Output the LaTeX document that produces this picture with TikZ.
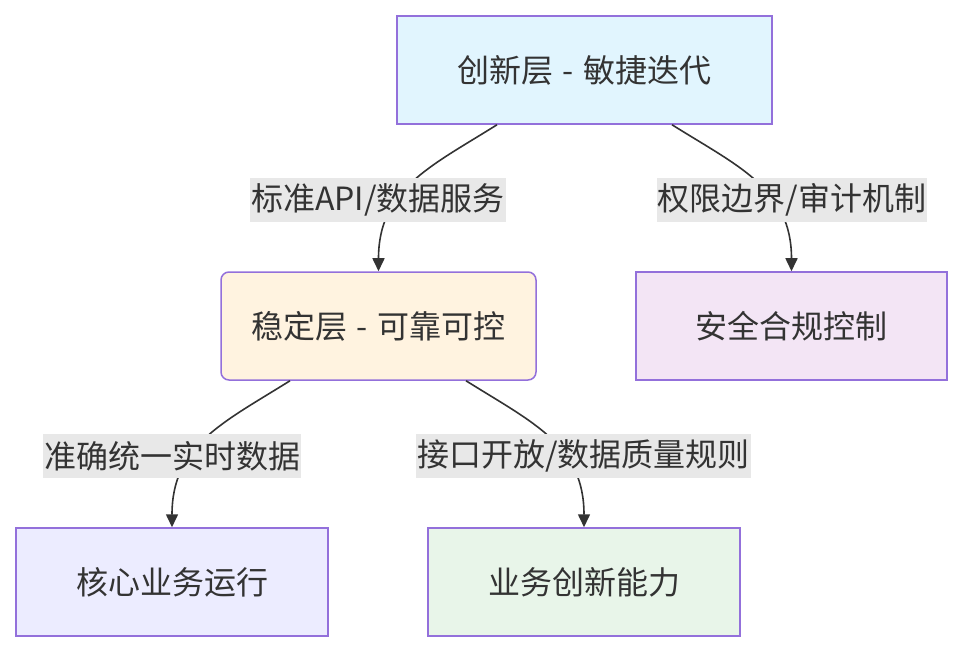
\documentclass[tikz,border=0pt]{standalone}
\usepackage{fontspec}
\setmainfont{Noto Sans CJK SC}
\usetikzlibrary{arrows.meta}
\definecolor{bordc}{HTML}{9370DB}
\definecolor{txtc}{HTML}{333333}
\definecolor{cblue}{HTML}{E1F5FE}
\definecolor{corange}{HTML}{FFF3E0}
\definecolor{cpurple}{HTML}{F3E5F5}
\definecolor{clav}{HTML}{ECECFF}
\definecolor{cgreen}{HTML}{E8F5E9}
\definecolor{lblbg}{HTML}{E8E8E8}
\newcommand{\dashsep}{\hspace{9pt}-\hspace{9pt}}
\tikzset{
  box/.style={draw=bordc, line width=1.5pt, text=txtc, font=\fontsize{32}{38}\selectfont,
    minimum height=108pt, inner sep=0pt},
  elabel/.style={fill=lblbg, text=txtc, font=\fontsize{32}{38}\selectfont,
    minimum height=44pt, inner xsep=1pt, inner ysep=0pt},
  conn/.style={draw=txtc, line width=1.6pt, -{Triangle[length=13pt,width=12pt]}}
}
\begin{document}
\begin{tikzpicture}[x=1pt,y=-1pt]
\useasboundingbox (0,0) rectangle (963,652);
\node[box, fill=cblue, minimum width=375pt] (top) at (584.5,70) {创新层\dashsep 敏捷迭代};
\node[box, fill=corange, minimum width=315pt, rounded corners=8pt] (stable) at (378.5,326) {稳定层\dashsep 可靠可控};
\node[box, fill=cpurple, minimum width=311pt] (safe) at (791.5,326) {安全合规控制};
\node[box, fill=clav, minimum width=312pt] (core) at (172,582) {核心业务运行};
\node[box, fill=cgreen, minimum width=312pt] (innov) at (584,582) {业务创新能力};

\draw[conn] ([xshift=-87.5pt]top.south) .. controls +(-67,42) and +(0,-82) .. (stable.north);
\draw[conn] ([xshift=87.5pt]top.south) .. controls +(67,42) and +(0,-82) .. (safe.north);
\draw[conn] ([xshift=-88.5pt]stable.south) .. controls +(-67,42) and +(0,-82) .. (core.north);
\draw[conn] ([xshift=87.5pt]stable.south) .. controls +(67,42) and +(0,-82) .. (innov.north);

\node[elabel] (l1) at (378,200) {标准API/数据服务};
\node[elabel] (l2) at (792,200) {权限边界/审计机制};
\node[elabel] (l3) at (172,456) {准确统一实时数据};
\node[elabel] (l4) at (583.5,456) {接口开放/数据质量规则};
\end{tikzpicture}
\end{document}
